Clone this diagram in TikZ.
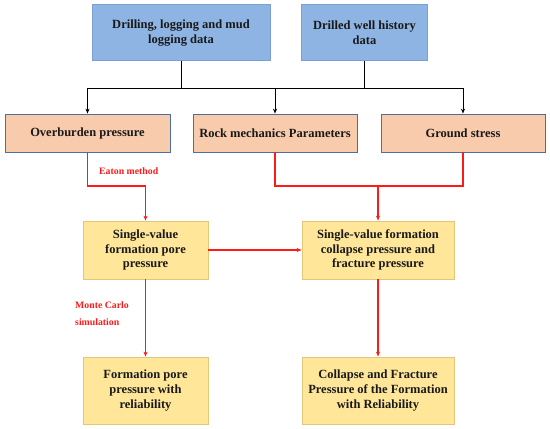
\documentclass[tikz,border=0pt]{standalone}
\usepackage{fontspec}
\setmainfont{Liberation Serif}
\usetikzlibrary{arrows.meta}
\definecolor{bluefill}{HTML}{8EB4E3}
\definecolor{blueline}{HTML}{7A9FD0}
\definecolor{peachfill}{HTML}{F8CBAD}
\definecolor{peachline}{HTML}{4A6FA0}
\definecolor{yelfill}{HTML}{FFE699}
\definecolor{yelline}{HTML}{E2C77A}
\definecolor{redline}{HTML}{FF1A1A}
\begin{document}
\begin{tikzpicture}[x=1pt,y=-1pt,
  boxbase/.style={draw,line width=0.8pt,inner sep=2pt,align=center,
    font=\fontsize{12.5}{14.8}\selectfont\bfseries,text=black!90},
  bluebox/.style={boxbase,fill=bluefill,draw=blueline},
  peachbox/.style={boxbase,fill=peachfill,draw=peachline},
  yelbox/.style={boxbase,fill=yelfill,draw=yelline},
  blk/.style={line width=1pt,black},
  blkarr/.style={blk,-{Stealth[length=5pt,width=4pt]}},
  red/.style={line width=1.1pt,redline},
  redarr/.style={red,-{Stealth[length=5pt,width=4pt]}},
  redlabel/.style={text=redline,font=\fontsize{9.8}{17}\selectfont\bfseries,align=left,inner sep=0pt}]
\useasboundingbox (0,0) rectangle (550,429);
% top row
\node[bluebox,minimum width=178pt,minimum height=56pt] (d1) at (181,32.7) {Drilling, logging and mud\\logging data};
\node[bluebox,minimum width=125.6pt,minimum height=56pt] (d2) at (364.5,32.7) {Drilled well history\\data};
% second row
\node[peachbox,minimum width=165pt,minimum height=38pt] (ob) at (87.5,133) {Overburden pressure};
\node[peachbox,minimum width=164pt,minimum height=38pt] (rm) at (275,133) {Rock mechanics Parameters};
\node[peachbox,minimum width=164pt,minimum height=38pt] (gs) at (463,133) {Ground stress};
% third row
\node[yelbox,minimum width=125pt,minimum height=58pt] (sp) at (145.5,250) {Single-value\\formation pore\\pressure};
\node[yelbox,minimum width=152pt,minimum height=58pt] (sc) at (378,250) {Single-value formation\\collapse pressure and\\fracture pressure};
% bottom row
\node[yelbox,minimum width=125pt,minimum height=67pt] (fp) at (145.5,390.5) {Formation pore\\pressure with\\reliability};
\node[yelbox,minimum width=152pt,minimum height=67pt] (cf) at (378,390.5) {Collapse and Fracture\\Pressure of the Formation\\with Reliability};
% junction coordinates
\coordinate (bj) at (0,88);
\coordinate (rj) at (0,186);
% black connectors
\draw[blk] (d1.south) -- (d1.south |- bj);
\draw[blk] (d2.south) -- (d2.south |- bj);
\draw[blk] (ob.north |- bj) -- (gs.north |- bj);
\draw[blkarr] (ob.north |- bj) -- (ob.north);
\draw[blkarr] (rm.north |- bj) -- (rm.north);
\draw[blkarr] (gs.north |- bj) -- (gs.north);
% red connectors
\draw[redarr] (ob.south) -- (ob.south |- rj) -| (sp.north);
\draw[red] (rm.south) -- (rm.south |- rj) -- (gs.south |- rj) -- (gs.south);
\draw[redarr] (sc.north |- rj) -- (sc.north);
\draw[redarr] (sp.east) -- (sc.west);
\draw[redarr] (sp.south) -- (fp.north);
\draw[redarr] (sc.south) -- (cf.north);
% labels
\node[redlabel,anchor=west] (eaton) at (99,171) {Eaton method};
\node[redlabel,anchor=north west] (mc) at (75,301) {Monte Carlo\\simulation};
\end{tikzpicture}
\end{document}
